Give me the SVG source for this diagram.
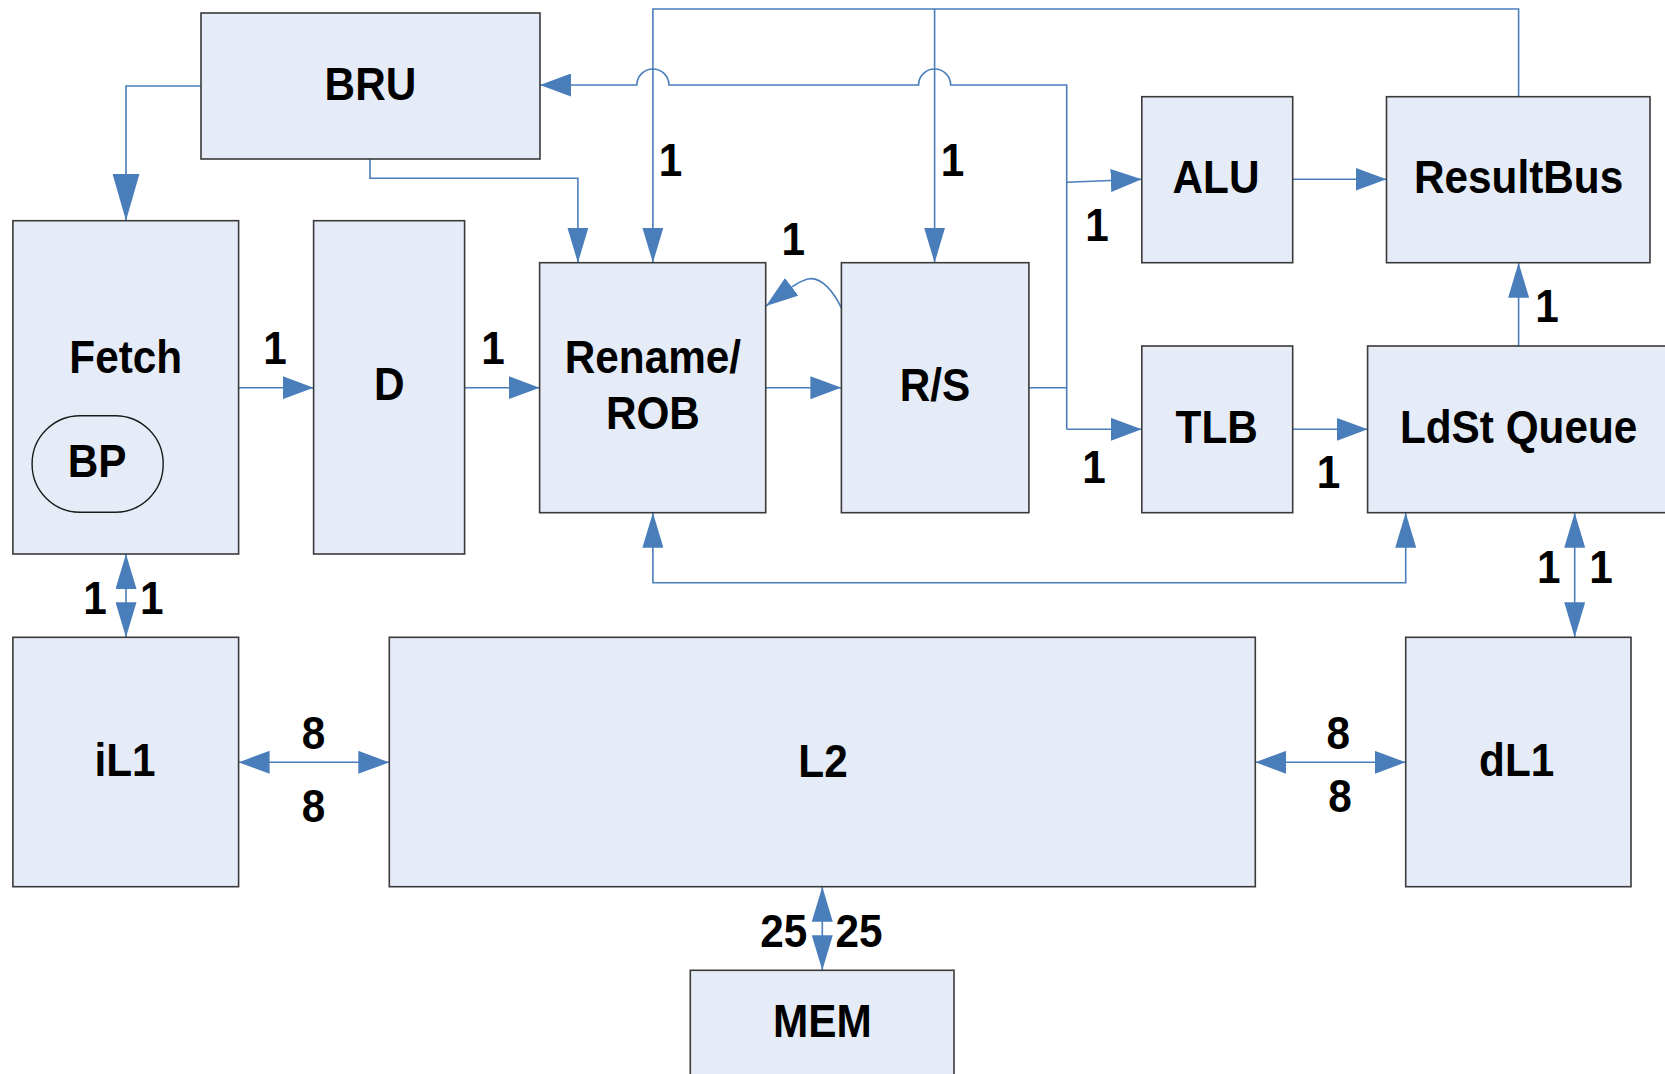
<svg xmlns="http://www.w3.org/2000/svg" width="1665" height="1074" viewBox="0 0 1665 1074">
<style>
.box{fill:#e6ecf7;stroke:#3a3a3a;stroke-width:1.6}
.bp{fill:#e6ecf7;stroke:#1a1a1a;stroke-width:1.4}
.t{font-family:"Liberation Sans",Arial,sans-serif;font-weight:bold;font-size:47px;fill:#000;text-anchor:middle}
.c{fill:none;stroke:#4a7ebb;stroke-width:1.6}
.h{marker-end:url(#ah)}
.v{marker-end:url(#av)}
.hh{marker-start:url(#ah);marker-end:url(#ah)}
.vv{marker-start:url(#av);marker-end:url(#av)}
</style>
<defs>
<marker id="ah" markerUnits="userSpaceOnUse" markerWidth="31" markerHeight="23" viewBox="0 0 31 23" refX="31" refY="11.5" orient="auto-start-reverse"><path d="M0,0 L31,11.5 L0,23 z" fill="#4a7ebb"/></marker>
<marker id="av" markerUnits="userSpaceOnUse" markerWidth="35" markerHeight="21" viewBox="0 0 35 21" refX="35" refY="10.5" orient="auto-start-reverse"><path d="M0,0 L35,10.5 L0,21 z" fill="#4a7ebb"/></marker>
<marker id="avL" markerUnits="userSpaceOnUse" markerWidth="47" markerHeight="27" viewBox="0 0 47 27" refX="47" refY="13.5" orient="auto"><path d="M0,0 L47,13.5 L0,27 z" fill="#4a7ebb"/></marker>
<marker id="ac" markerUnits="userSpaceOnUse" markerWidth="32" markerHeight="22" viewBox="0 0 32 22" refX="32" refY="11" orient="auto"><path d="M0,0 L32,11 L0,22 z" fill="#4a7ebb"/></marker>
</defs>

<g id="connectors">
<path class="c" d="M1518.6,96.7 V9 H652.9 V262.7" style="marker-end:url(#av)"/>
<path class="c v" d="M934.6,9 V262.7"/>
<path class="c h" d="M1066.7,429.3 V85 H950.6 A16,16 0 0 0 918.6,85 H668.9 A16,16 0 0 0 636.9,85 H540"/>
<path class="c h" d="M1066.7,182.3 L1141.8,179.3"/>
<path class="c" d="M1066.7,429.3 H1141.8" style="marker-end:url(#ah)"/>
<path class="c" d="M1028.9,387.7 H1066.7"/>
<path class="c" d="M201,86 H126 V220.7" style="marker-end:url(#avL)"/>
<path class="c v" d="M370,159 V178.3 H577.9 V262.7"/>
<path class="c h" d="M238.6,387.7 H313.6"/>
<path class="c h" d="M464.6,387.7 H539.6"/>
<path class="c h" d="M765.7,387.7 H841.4"/>
<path class="c h" d="M1292.7,429.3 H1367.6"/>
<path class="c h" d="M1292.7,179.3 H1386.5"/>
<path class="c v" d="M1518.6,346 V262.7"/>
<path class="c vv" d="M652.9,512.7 V582.7 H1405.7 V512.7"/>
<path class="c vv" d="M1574.7,512.7 V637.3"/>
<path class="c vv" d="M126,554 V637.3"/>
<path class="c hh" d="M238.6,762.3 H389.3"/>
<path class="c hh" d="M1255.3,762.3 H1405.7"/>
<path class="c vv" d="M822.3,886.7 V970.3"/>
<path class="c" d="M841.4,308 C834,292 821,276 808,279 C799,281 790,288 766,306" style="marker-end:url(#ac)"/>
</g>

<g id="BRU"><rect class="box" x="201" y="13" width="339" height="146"/><text class="t" transform="translate(370.4,100) scale(0.9,1)">BRU</text></g>
<g id="Fetch"><rect class="box" x="12.9" y="220.7" width="225.7" height="333.3"/><text class="t" transform="translate(125.7,373.3) scale(0.9,1)">Fetch</text></g>
<g id="BP"><rect class="bp" x="32.1" y="415.7" width="131.1" height="96.6" rx="48" ry="48"/><text class="t" transform="translate(97,476.7) scale(0.9,1)">BP</text></g>
<g id="D"><rect class="box" x="313.6" y="220.7" width="151" height="333.3"/><text class="t" transform="translate(389.3,400) scale(0.9,1)">D</text></g>
<g id="Rename"><rect class="box" x="539.6" y="262.7" width="226.1" height="250"/><text class="t" transform="translate(652.9,373.3) scale(0.9,1)">Rename/</text><text class="t" transform="translate(652.9,429.3) scale(0.9,1)">ROB</text></g>
<g id="RS"><rect class="box" x="841.4" y="262.7" width="187.5" height="250"/><text class="t" transform="translate(935,401) scale(0.9,1)">R/S</text></g>
<g id="ALU"><rect class="box" x="1141.8" y="96.7" width="150.9" height="166"/><text class="t" transform="translate(1216,193) scale(0.9,1)">ALU</text></g>
<g id="ResultBus"><rect class="box" x="1386.5" y="96.7" width="263.5" height="166"/><text class="t" transform="translate(1518.6,193.3) scale(0.9,1)">ResultBus</text></g>
<g id="TLB"><rect class="box" x="1141.8" y="346" width="150.9" height="166.7"/><text class="t" transform="translate(1216.7,443.3) scale(0.9,1)">TLB</text></g>
<g id="LdStQueue"><rect class="box" x="1367.6" y="346" width="300" height="166.7"/><text class="t" transform="translate(1518.6,442.7) scale(0.9,1)">LdSt Queue</text></g>
<g id="iL1"><rect class="box" x="12.9" y="637.3" width="225.7" height="249.4"/><text class="t" transform="translate(125,775.7) scale(0.9,1)">iL1</text></g>
<g id="L2"><rect class="box" x="389.3" y="637.3" width="866" height="249.4"/><text class="t" transform="translate(823,777) scale(0.9,1)">L2</text></g>
<g id="dL1"><rect class="box" x="1405.7" y="637.3" width="225.3" height="249.4"/><text class="t" transform="translate(1516.7,775.7) scale(0.9,1)">dL1</text></g>
<g id="MEM"><rect class="box" x="690.3" y="970.3" width="263.7" height="110"/><text class="t" transform="translate(822.3,1036.7) scale(0.9,1)">MEM</text></g>

<g id="labels">
<text class="t" transform="translate(275,364) scale(0.9,1)">1</text>
<text class="t" transform="translate(492.9,364) scale(0.9,1)">1</text>
<text class="t" transform="translate(670.4,176) scale(0.9,1)">1</text>
<text class="t" transform="translate(952.4,176) scale(0.9,1)">1</text>
<text class="t" transform="translate(793.2,255) scale(0.9,1)">1</text>
<text class="t" transform="translate(1097,240.7) scale(0.9,1)">1</text>
<text class="t" transform="translate(1094,483.3) scale(0.9,1)">1</text>
<text class="t" transform="translate(1328.4,488.3) scale(0.9,1)">1</text>
<text class="t" transform="translate(1547,322.3) scale(0.9,1)">1</text>
<text class="t" transform="translate(1548.8,582.7) scale(0.9,1)">1</text>
<text class="t" transform="translate(1601,582.7) scale(0.9,1)">1</text>
<text class="t" transform="translate(95,614) scale(0.9,1)">1</text>
<text class="t" transform="translate(151.7,614) scale(0.9,1)">1</text>
<text class="t" transform="translate(313.6,749) scale(0.9,1)">8</text>
<text class="t" transform="translate(313.6,821.7) scale(0.9,1)">8</text>
<text class="t" transform="translate(1338.3,749) scale(0.9,1)">8</text>
<text class="t" transform="translate(1340,811.7) scale(0.9,1)">8</text>
<text class="t" transform="translate(783.7,947.3) scale(0.9,1)">25</text>
<text class="t" transform="translate(859,947.3) scale(0.9,1)">25</text>
</g>
</svg>
